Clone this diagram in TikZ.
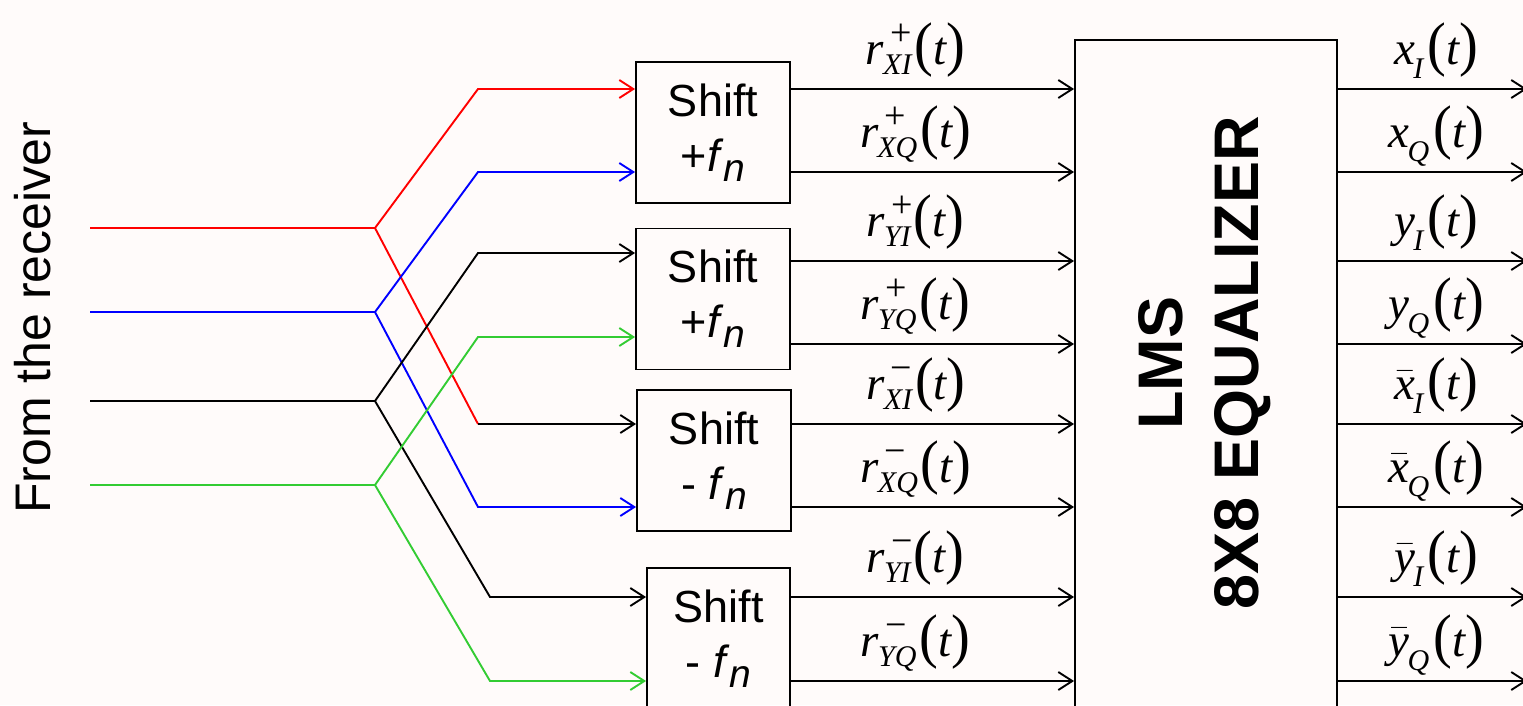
\RequirePackage{fix-cm}
\documentclass[tikz,border=0pt]{standalone}
\usepackage{amsmath}
\usepackage{graphicx}
\usepackage{fontspec}
\setmainfont{Liberation Sans}
\newfontfamily\tms{Liberation Serif}
\usetikzlibrary{arrows.meta}

\definecolor{bgcol}{RGB}{255,251,250}
\definecolor{sgreen}{RGB}{51,204,51}

\newcommand{\ital}[1]{{\tms\itshape #1}}
\newcommand{\bital}[1]{$\bar{\text{\tms\itshape #1}}$}
\newcommand{\mns}{\char"2212}
\newcommand{\lp}{\scalebox{1.2}[1.28]{\tms(}}
\newcommand{\rp}{\scalebox{1.2}[1.28]{\tms)}}
\newcommand{\tsub}[2]{\raisebox{#1}{\fontsize{30}{30}\selectfont\tms\itshape #2}}
\newcommand{\rsig}[2]{\ital{r}\rlap{\kern6pt\raisebox{19pt}{\fontsize{38}{38}\selectfont\tms #1}}%
  \kern-1pt\tsub{-10pt}{#2}\kern3pt\lp\ital{t}\rp}
\newcommand{\osig}[2]{#1\kern-2pt\tsub{-14pt}{#2}\kern4pt\lp\ital{t}\rp}
\newcommand{\fn}{\textit{f}\raisebox{-10pt}{\fontsize{39}{40}\selectfont\textit{n}}}

\tikzset{
  shiftbox/.style={draw, minimum width=154pt, minimum height=141pt, inner sep=0pt,
    align=center, font=\fontsize{45}{55}\selectfont},
  lbl/.style={anchor=base, yshift=25pt, inner sep=0pt, font=\fontsize{47}{56}\selectfont}
}

\begin{document}
\begin{tikzpicture}[x=1pt, y=-1pt, line width=1.9pt, >={Straight Barb[length=14pt,width=18pt]}]
    \fill[bgcol] (0,0) rectangle (1523,705);
    \clip (0,0) rectangle (1523,705);
    % source label
    \node[rotate=90, font=\fontsize{50}{60}\selectfont] (rx) at (33,318) {From the receiver};
    % frequency shifters
    \node[shiftbox] (s1) at (713,132.5) {Shift\\+\fn};
    \node[shiftbox] (s2) at (713,299) {Shift\\+\fn};
    \node[shiftbox] (s3) at (714,460.5) {Shift\\- \fn};
    \node[shiftbox, minimum width=143pt] (s4) at (718.5,638.5) {Shift\\- \fn};
    % equalizer
    \node[draw, minimum width=262pt, minimum height=700pt, anchor=north] (eq) at (1206,39) {};
    \node[rotate=90, align=center, font=\bfseries\fontsize{63}{76}\selectfont] (eqtxt) at (1205,363) {LMS\\8X8 EQUALIZER};
    % rows
    \foreach \y [count=\i] in {89,172,261,344,424,507,597,681}
        \coordinate (row\i) at (0,\y);
    \coordinate (outedge) at (1527,0);
    % inputs and branch points
    \coordinate (inR) at (90,228);  \coordinate (brR) at (375,228);
    \coordinate (inB) at (90,312);  \coordinate (brB) at (375,312);
    \coordinate (inK) at (90,401);  \coordinate (brK) at (375,401);
    \coordinate (inG) at (90,485);  \coordinate (brG) at (375,485);
    \coordinate (kR1) at (478,89);  \coordinate (kR2) at (478,424);
    \coordinate (kB1) at (478,172); \coordinate (kB2) at (478,507);
    \coordinate (kK1) at (478,253); \coordinate (kK2) at (490,597);
    \coordinate (kG1) at (478,337); \coordinate (kG2) at (490,681);
    % crossing lines
    \draw[red,->] (inR) -- (brR) -- (kR1) -- (s1.west |- kR1);
    \draw[red] (brR) -- (kR2);
    \draw[->] (kR2) -- (s3.west |- kR2);
    \draw[blue,->] (inB) -- (brB) -- (kB1) -- (s1.west |- kB1);
    \draw[blue,->] (brB) -- (kB2) -- (s3.west |- kB2);
    \draw[->] (inK) -- (brK) -- (kK1) -- (s2.west |- kK1);
    \draw[->] (brK) -- (kK2) -- (s4.west |- kK2);
    \draw[sgreen,->] (inG) -- (brG) -- (kG1) -- (s2.west |- kG1);
    \draw[sgreen,->] (brG) -- (kG2) -- (s4.west |- kG2);
    % shifted signals
    \foreach \b/\r/\s/\c in {s1/1/+/XI, s1/2/+/XQ, s2/3/+/YI, s2/4/+/YQ,
                             s3/5/\mns/XI, s3/6/\mns/XQ, s4/7/\mns/YI, s4/8/\mns/YQ}
        \draw[->] (\b.east |- row\r) -- (eq.west |- row\r) node[lbl, pos=0.44] {\rsig{\s}{\c}};
    % equalized outputs
    \foreach \r/\v/\c in {1/{\ital{x}}/I, 2/{\ital{x}}/Q, 3/{\ital{y}}/I, 4/{\ital{y}}/Q,
                          5/{\bital{x}}/I, 6/{\bital{x}}/Q, 7/{\bital{y}}/I, 8/{\bital{y}}/Q}
        \draw[->] (eq.east |- row\r) -- (outedge |- row\r) node[lbl, pos=0.52] {\osig{\v}{\c}};
\end{tikzpicture}
\end{document}
